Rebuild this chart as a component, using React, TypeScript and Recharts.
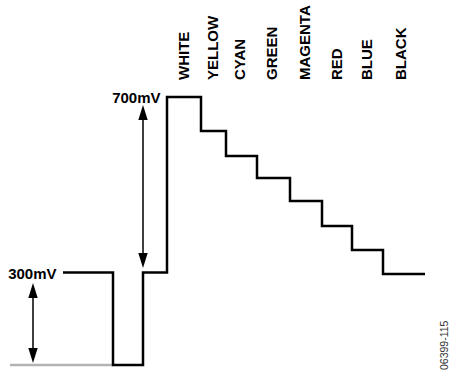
import {
  Customized,
  Line,
  LineChart,
  ReferenceDot,
  ReferenceLine,
  XAxis,
  YAxis,
} from "recharts";

// edges of each waveform segment along the time axis, and the level that starts there (mV, as drawn)
const edgeTimes = [63, 113, 143, 167, 201, 226, 257, 290, 322, 352, 383, 425];
const edgeLevels = [345, 0, 345, 1000, 873, 780, 698, 612, 519, 429, 340, 340];

// grey 0 mV reference under the sync tip
const baseTimes = [10, 113];
const baseLevels = [0, 0];

// colour bar names and where their labels sit on the time axis
const barNames = ["WHITE", "YELLOW", "CYAN", "GREEN", "MAGENTA", "RED", "BLUE", "BLACK"];
const barLabelTimes = [184, 213, 240, 272, 305, 337, 367, 401];

// dimension arrows: time, from level, to level
const arrowTimes = [33, 143];
const arrowFrom = [7, 362];
const arrowTo = [306, 970];

const blankLevel = 345;
const whiteLevel = 1000;

const FONT = "'Liberation Sans', Arial, Helvetica, sans-serif";
const LABEL_BOTTOM = 80;

const waveData = edgeTimes.map((t, i) => ({ t, v: edgeLevels[i] }));
const baseData = baseTimes.map((t, i) => ({ t, v: baseLevels[i] }));

function BarTick(props: any) {
  const { x, index } = props;
  const fs = 15;
  return (
    <text
      transform={`translate(${x},${LABEL_BOTTOM}) rotate(-90)`}
      x={0}
      y={fs * 0.36}
      textAnchor="start"
      fontFamily={FONT}
      fontWeight="bold"
      fontSize={fs}
      fill="#000"
    >
      {barNames[index]}
    </text>
  );
}

function ArrowShape(props: any) {
  const { x1, y1, y2 } = props;
  const top = Math.min(y1, y2);
  const bot = Math.max(y1, y2);
  const len = 15;
  const hw = 4.7;
  return (
    <g>
      <line x1={x1} y1={top + len - 1} x2={x1} y2={bot - len + 1} stroke="#000" strokeWidth={1.5} />
      <polygon points={`${x1},${top} ${x1 - hw},${top + len} ${x1 + hw},${top + len}`} fill="#000" />
      <polygon points={`${x1},${bot} ${x1 - hw},${bot - len} ${x1 + hw},${bot - len}`} fill="#000" />
    </g>
  );
}

function levelLabel(text: string) {
  return (props: any) => {
    const vb = props?.viewBox;
    if (!vb) return null;
    const fs = 15;
    const cx = vb.x + (vb.width ?? 0) / 2;
    const cy = vb.y + (vb.height ?? 0) / 2;
    return (
      <text
        x={cx - 6.5}
        y={cy + fs * 0.36 + 1}
        textAnchor="end"
        fontFamily={FONT}
        fontWeight="bold"
        fontSize={fs}
        fill="#000"
      >
        {text}
      </text>
    );
  };
}

function FigureId() {
  const fs = 10.5;
  return (
    <text
      transform="translate(444,370) rotate(-90)"
      x={0}
      y={fs * 0.36}
      textAnchor="start"
      fontFamily={FONT}
      fontSize={fs}
      fill="#333"
    >
      06399-115
    </text>
  );
}

export default function App() {
  return (
    <div style={{ position: "absolute", left: 0, top: 0, width: 450, height: 372, background: "#fff" }}>
      <LineChart width={450} height={372} margin={{ top: 67, right: 0, bottom: 7, left: 0 }}>
        <XAxis
          xAxisId={0}
          dataKey="t"
          type="number"
          orientation="top"
          domain={[0, 450]}
          ticks={barLabelTimes}
          interval={0}
          height={30}
          axisLine={false}
          tickLine={false}
          tick={<BarTick />}
        />
        <YAxis yAxisId={0} type="number" domain={[0, 1000]} hide />
        <Line
          data={baseData}
          dataKey="v"
          type="linear"
          stroke="#b3b3b3"
          strokeWidth={2.5}
          dot={false}
          isAnimationActive={false}
        />
        <Line
          data={waveData}
          dataKey="v"
          type="stepAfter"
          stroke="#000"
          strokeWidth={2.5}
          strokeLinejoin="miter"
          dot={false}
          isAnimationActive={false}
        />
        {arrowTimes.map((t, i) => (
          <ReferenceLine
            key={`arrow-${i}`}
            segment={[
              { x: t, y: arrowFrom[i] },
              { x: t, y: arrowTo[i] },
            ]}
            shape={<ArrowShape />}
          />
        ))}
        <ReferenceDot
          x={edgeTimes[0]}
          y={blankLevel}
          r={1}
          fill="none"
          stroke="none"
          label={{ content: levelLabel("300mV") }}
        />
        <ReferenceDot
          x={edgeTimes[3]}
          y={whiteLevel}
          r={1}
          fill="none"
          stroke="none"
          label={{ content: levelLabel("700mV") }}
        />
        <Customized component={FigureId} />
      </LineChart>
    </div>
  );
}
